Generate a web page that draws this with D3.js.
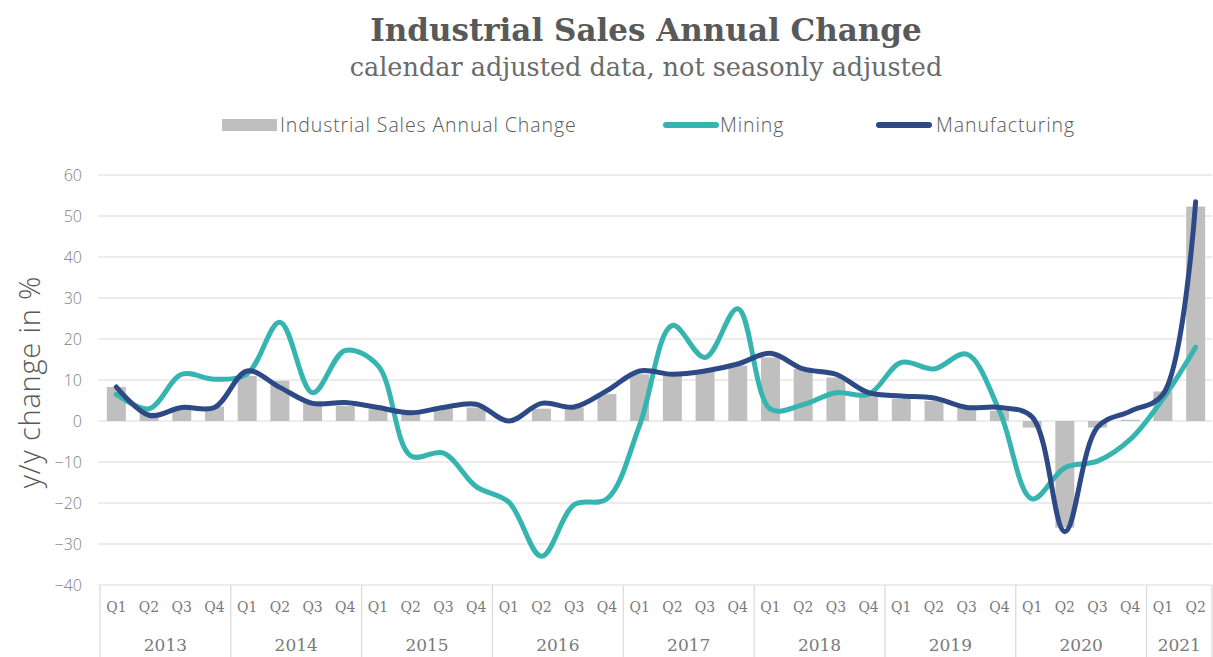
<!DOCTYPE html>
<html>
<head>
<meta charset="utf-8">
<script src="https://cdn.jsdelivr.net/npm/d3@7"></script>
<style>
  html, body { margin: 0; padding: 0; background: #ffffff; }
  svg { display: block; font-family: "Open Sans", Lato, sans-serif; }
</style>
</head>
<body>
<svg id="chart" width="1213" height="657"></svg>
<script>
// Quarterly periods, 2013 Q1 – 2021 Q2
const years = [2013, 2014, 2015, 2016, 2017, 2018, 2019, 2020, 2021];
const quarterLabels = ["Q1", "Q2", "Q3", "Q4"];
const quartersPerYear = [4, 4, 4, 4, 4, 4, 4, 4, 2];

// Year-on-year change, %
const industrialSales = [8.3, 2.0, 3.0, 3.5, 11.0, 9.8, 4.9, 3.7, 2.9, 2.0, 3.0, 3.3,
  0.5, 3.0, 3.3, 6.6, 11.4, 11.4, 12.2, 13.5, 15.5, 12.7, 10.6, 6.6, 5.4, 4.9, 3.3, 2.5,
  -1.6, -26.0, -1.6, 0.3, 7.2, 52.3];
const mining = [6.5, 3.0, 11.4, 10.2, 11.5, 24.1, 6.9, 17.2, 13.5, -8.5, -7.8, -16.0,
  -19.8, -33.0, -20.4, -19.0, -1.0, 23.3, 15.5, 27.4, 2.9, 4.0, 6.9, 6.5, 14.3, 12.7, 16.3, 2.5,
  -19.0, -11.4, -9.8, -4.5, 5.4, 18.0];
const manufacturing = [8.3, 1.4, 3.3, 3.3, 12.2, 8.2, 4.3, 4.5, 3.3, 2.0, 3.3, 4.1,
  0.0, 4.3, 3.4, 7.4, 12.2, 11.4, 12.2, 13.9, 16.5, 12.7, 11.4, 6.9, 6.1, 5.6, 3.3, 3.3,
  1.0, -27.0, -1.5, 2.4, 6.5, 53.5];

const yTicks = [-40, -30, -20, -10, 0, 10, 20, 30, 40, 50, 60];

const legendItems = [
  { name: "Industrial Sales Annual Change", kind: "bar", color: "#bfbfbf" },
  { name: "Mining", kind: "line", color: "#35b4b0" },
  { name: "Manufacturing", kind: "line", color: "#2d4a86" }
];

// Build the period list (year, quarter) in order
const periods = [];
years.forEach((yr, yi) => {
  for (let q = 0; q < quartersPerYear[yi]; q++) periods.push({ year: yr, q: quarterLabels[q] });
});

const svg = d3.select("#chart");
const plot = { left: 100, right: 1212, top: 175, bottom: 585 };

const x = d3.scaleBand()
  .domain(d3.range(periods.length))
  .range([plot.left, plot.right])
  .paddingInner(0.42)
  .paddingOuter(0.21);

const y = d3.scaleLinear().domain([-40, 60]).range([plot.bottom, plot.top]);

const textColor = "#595959";
const tickColor = "#808080";
const gridColor = "#d9d9d9";
const slab = "'DejaVu Serif', serif";

// Title and subtitle
svg.append("text")
  .attr("x", 646).attr("y", 41)
  .attr("text-anchor", "middle")
  .attr("font-family", slab)
  .attr("font-size", 31).attr("font-weight", 700)
  .attr("fill", textColor)
  .text("Industrial Sales Annual Change");

svg.append("text")
  .attr("x", 646).attr("y", 76)
  .attr("text-anchor", "middle")
  .attr("font-family", slab)
  .attr("font-size", 25.5).attr("font-weight", 400)
  .attr("fill", "#6a6a6a")
  .text("calendar adjusted data, not seasonly adjusted");

// Horizontal gridlines
svg.append("g")
  .selectAll("line")
  .data(yTicks)
  .join("line")
  .attr("x1", plot.left - 2).attr("x2", plot.right)
  .attr("y1", d => y(d)).attr("y2", d => y(d))
  .attr("stroke", gridColor).attr("stroke-width", 1.2);

// Y axis tick labels
const yAxis = d3.axisLeft(y).tickValues(yTicks).tickSize(0).tickPadding(0);
const yAxisG = svg.append("g")
  .attr("transform", `translate(${plot.left - 18},0)`)
  .call(yAxis);
yAxisG.select(".domain").remove();
yAxisG.selectAll("text")
  .attr("font-family", "'Open Sans', Lato, sans-serif")
  .attr("font-size", 16).attr("font-weight", 300)
  .attr("fill", tickColor);

// Y axis title
svg.append("text")
  .attr("transform", `translate(40, ${y(9.5)}) rotate(-90)`)
  .attr("text-anchor", "middle")
  .attr("font-size", 29).attr("font-weight", 300)
  .attr("letter-spacing", 0.8)
  .attr("fill", textColor)
  .text("y/y change in %");

// Bars: industrial sales
svg.append("g")
  .selectAll("rect")
  .data(industrialSales)
  .join("rect")
  .attr("x", (d, i) => x(i))
  .attr("width", x.bandwidth())
  .attr("y", d => y(Math.max(0, d)))
  .attr("height", d => Math.abs(y(d) - y(0)))
  .attr("fill", legendItems[0].color);

// Smoothed lines
const line = d3.line()
  .x((d, i) => x(i) + x.bandwidth() / 2)
  .y(d => y(d))
  .curve(d3.curveCatmullRom.alpha(0.5));

svg.append("path")
  .datum(mining)
  .attr("d", line)
  .attr("fill", "none")
  .attr("stroke", legendItems[1].color)
  .attr("stroke-width", 5)
  .attr("stroke-linecap", "round")
  .attr("stroke-linejoin", "round");

svg.append("path")
  .datum(manufacturing)
  .attr("d", line)
  .attr("fill", "none")
  .attr("stroke", legendItems[2].color)
  .attr("stroke-width", 5)
  .attr("stroke-linecap", "round")
  .attr("stroke-linejoin", "round");

// Category axis: quarter labels, year labels and year separators
const step = x.step();
const axisG = svg.append("g");
axisG.selectAll("text.q")
  .data(periods)
  .join("text")
  .attr("class", "q")
  .attr("x", (d, i) => x(i) + x.bandwidth() / 2)
  .attr("y", 612)
  .attr("text-anchor", "middle")
  .attr("font-family", slab)
  .attr("font-size", 14).attr("font-weight", 400)
  .attr("fill", "#7a7a7a")
  .text(d => d.q);

let startIdx = 0;
const yearSpans = years.map((yr, yi) => {
  const s = startIdx;
  startIdx += quartersPerYear[yi];
  return { year: yr, start: s, end: startIdx };
});
const edge = i => i >= periods.length ? plot.right : x(i) - (step - x.bandwidth()) / 2;

axisG.selectAll("text.yr")
  .data(yearSpans)
  .join("text")
  .attr("class", "yr")
  .attr("x", d => (edge(d.start) + edge(d.end)) / 2)
  .attr("y", 651)
  .attr("text-anchor", "middle")
  .attr("font-family", slab)
  .attr("font-size", 17).attr("font-weight", 400)
  .attr("fill", "#7a7a7a")
  .text(d => d.year);

const separators = [0].concat(yearSpans.map(d => d.end));
axisG.selectAll("line.sep")
  .data(separators)
  .join("line")
  .attr("class", "sep")
  .attr("x1", d => edge(d)).attr("x2", d => edge(d))
  .attr("y1", plot.bottom).attr("y2", 657)
  .attr("stroke", gridColor).attr("stroke-width", 1.2);

// Legend
const legendPos = [
  { sx: 222, tx: 280 },
  { sx: 663, tx: 720 },
  { sx: 876, tx: 936 }
];
const legend = svg.append("g");
legendItems.forEach((item, k) => {
  const p = legendPos[k];
  if (item.kind === "bar") {
    legend.append("rect")
      .attr("x", p.sx).attr("y", 119).attr("width", 55).attr("height", 12)
      .attr("fill", item.color);
  } else {
    legend.append("line")
      .attr("x1", p.sx + 3).attr("x2", p.sx + 53)
      .attr("y1", 125).attr("y2", 125)
      .attr("stroke", item.color).attr("stroke-width", 6)
      .attr("stroke-linecap", "round");
  }
  legend.append("text")
    .attr("x", p.tx).attr("y", 132)
    .attr("font-size", 19.5).attr("font-weight", 300)
    .attr("letter-spacing", 0.9)
    .attr("fill", textColor)
    .text(item.name);
});
</script>
</body>
</html>
